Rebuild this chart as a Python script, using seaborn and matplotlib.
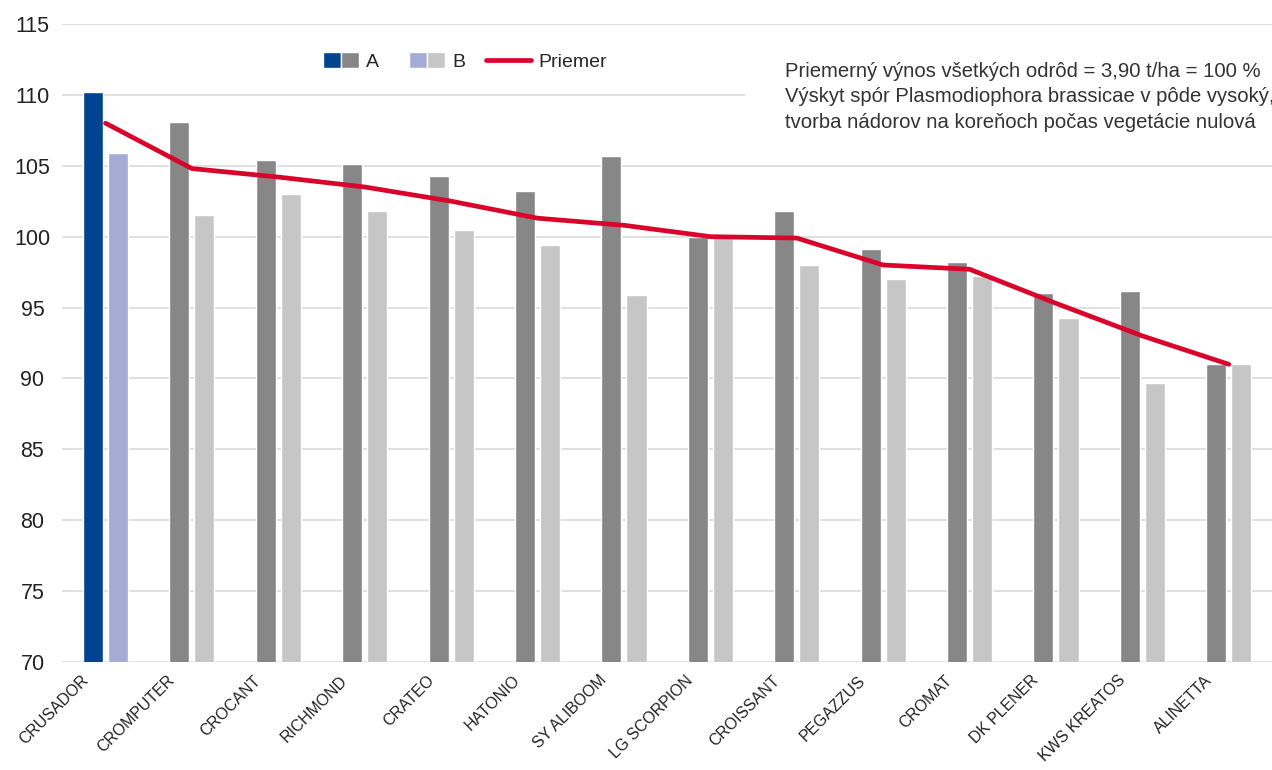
import numpy as np
import pandas as pd
import matplotlib
matplotlib.use("Agg")
import matplotlib.pyplot as plt
import matplotlib.transforms as mtransforms
import seaborn as sns
from matplotlib.patches import Patch, Rectangle
from matplotlib.lines import Line2D
from matplotlib.legend_handler import HandlerTuple

odrody = ["CRUSADOR", "CROMPUTER", "CROCANT", "RICHMOND", "CRATEO", "HATONIO",
          "SY ALIBOOM", "LG SCORPION", "CROISSANT", "PEGAZZUS", "CROMAT",
          "DK PLENER", "KWS KREATOS", "ALINETTA"]
hodnoty_a = [110.2, 108.1, 105.4, 105.1, 104.3, 103.2, 105.7, 100.0, 101.8,
             99.1, 98.2, 96.0, 96.2, 91.0]
hodnoty_b = [105.9, 101.5, 103.0, 101.8, 100.5, 99.4, 95.9, 100.0, 98.0,
             97.0, 97.2, 94.3, 89.7, 91.0]
priemer = [108.0, 104.8, 104.2, 103.5, 102.5, 101.3, 100.8, 100.0, 99.9,
           98.0, 97.7, 95.3, 93.0, 91.0]
y_ticks = [70, 75, 80, 85, 90, 95, 100, 105, 110, 115]

poznamka = ("Priemerný výnos všetkých odrôd = 3,90 t/ha = 100 %\n"
            "Výskyt spór Plasmodiophora brassicae v pôde vysoký,\n"
            "tvorba nádorov na koreňoch počas vegetácie nulová")

BLUE = "#00438f"
LIGHT_BLUE = "#a4acd5"
DARK_GRAY = "#878787"
LIGHT_GRAY = "#c6c6c6"
RED = "#d9042b"


class ShortTuple(HandlerTuple):
    # narrower pair of squares, pushed to the right of the handle box
    def create_artists(self, legend, orig_handle, xdescent, ydescent,
                       width, height, fontsize, trans):
        w = width * 0.8
        return super().create_artists(legend, orig_handle,
                                      xdescent - (width - w), ydescent,
                                      w, height, fontsize, trans)


df = pd.DataFrame({
    "odroda": odrody * 2,
    "hodnota": hodnoty_a + hodnoty_b,
    "serie": ["A"] * len(odrody) + ["B"] * len(odrody),
})

sns.set_style("white")
plt.rcParams["font.family"] = ["Liberation Sans", "DejaVu Sans"]

fig = plt.figure(figsize=(12.72, 7.70), dpi=100)
ax = fig.add_axes([0.049, 0.140, 0.951, 0.829])

sns.barplot(data=df, x="odroda", y="hodnota", hue="serie",
            palette=[DARK_GRAY, LIGHT_GRAY], width=0.58, gap=0.2,
            legend=False, ax=ax, zorder=2)

# first variety is highlighted in blue
ax.containers[0][0].set_facecolor(BLUE)
ax.containers[1][0].set_facecolor(LIGHT_BLUE)

sns.lineplot(x=np.arange(len(odrody)), y=priemer, color=RED, linewidth=3.4,
             ax=ax, zorder=3)

ax.set_ylim(70, 115)
ax.set_xlim(-0.5, len(odrody) - 0.5)
ax.tick_params(axis="both", length=0)
ax.tick_params(axis="x", pad=4)
ax.tick_params(axis="y", pad=21.5)
ax.set_yticks(y_ticks)
ax.set_yticklabels([str(t) for t in y_ticks], fontsize=15.5, color="#222222",
                   ha="center")
ax.set_xticks(range(len(odrody)))
ax.set_xticklabels(odrody, rotation=45, ha="right", rotation_mode="anchor",
                   fontsize=11.4, color="#222222")
ax.yaxis.grid(True, color="#dadada", linewidth=1.2, zorder=0)
ax.set_axisbelow(True)
ax.set_xlabel("")
ax.set_ylabel("")
for s in ax.spines.values():
    s.set_visible(False)

# move the rotated names a little to the left of their group
shift = mtransforms.ScaledTranslation(-25 / 100, -5 / 100, fig.dpi_scale_trans)
for lab in ax.get_xticklabels():
    lab.set_transform(lab.get_transform() + shift)

# white area behind the note hides the grid there
ax.add_patch(Rectangle((0.564, 0.815), 0.436, 0.14, transform=ax.transAxes,
                       facecolor="white", edgecolor="none", zorder=1))
ax.text(0.597, 0.941, poznamka, transform=ax.transAxes, ha="left", va="top",
        fontsize=14.6, color="#333333", linespacing=1.46, zorder=4)

handles = [
    (Patch(facecolor=BLUE), Patch(facecolor=DARK_GRAY)),
    (Patch(facecolor=LIGHT_BLUE), Patch(facecolor=LIGHT_GRAY)),
    Line2D([0], [0], color=RED, linewidth=3.4),
]
ax.legend(handles, ["A", "B", "Priemer"], ncol=3, frameon=False,
          handler_map={tuple: ShortTuple(ndivide=None, pad=0)},
          loc="center", bbox_to_anchor=(0.329, 0.941), fontsize=14,
          handlelength=2.32, handleheight=0.9, columnspacing=1.1,
          handletextpad=0.35)

fig.savefig("out.png", dpi=100)
